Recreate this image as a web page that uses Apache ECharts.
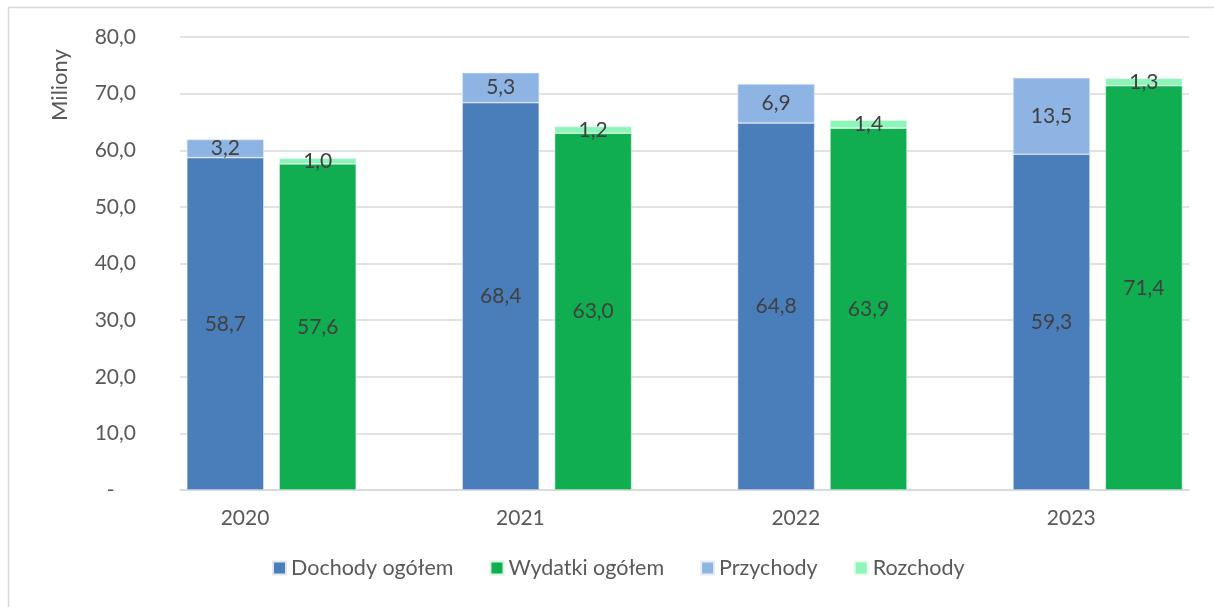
<!DOCTYPE html>
<html><head><meta charset="utf-8">
<script src="https://cdn.jsdelivr.net/npm/echarts@6/dist/echarts.min.js"></script>
<style>html,body{margin:0;padding:0;background:#fff;}#c{width:1214px;height:607px;}</style>
</head><body><div id="c"></div>
<script>
const years = ['2020', '2021', '2022', '2023'];
const dochody = [58.7, 68.4, 64.8, 59.3];
const przychody = [3.2, 5.3, 6.9, 13.5];
const wydatki = [57.6, 63.0, 63.9, 71.4];
const rozchody = [1.0, 1.2, 1.4, 1.3];
const yTicks = { min: 0, max: 80, interval: 10 };

const FONT = 'Lato';
const fmt = v => v.toFixed(1).replace('.', ',');
const lbl = { show: true, position: 'inside', color: '#404040', fontSize: 21, fontFamily: FONT, formatter: p => fmt(p.value) };

const chart = echarts.init(document.getElementById('c'));
chart.setOption({
  animation: false,
  grid: [
    { left: 180, right: 25, top: 37, bottom: 117 },
    { left: 271.5, right: 116.3, top: 37, bottom: 117 }
  ],
  graphic: [
    { type: 'rect', shape: { x: 8.5, y: 7.5, width: 1300, height: 700 }, style: { fill: 'none', stroke: '#d9d9d9', lineWidth: 1.5 } },
    { type: 'text', x: 49, y: 85, rotation: Math.PI / 2, style: { text: 'Miliony', fontSize: 22, fontFamily: FONT, fill: '#595959', textAlign: 'center', textVerticalAlign: 'top' } }
  ],
  legend: {
    bottom: 23, left: 267, itemWidth: 13, itemHeight: 13, itemGap: 36, icon: 'rect',
    textStyle: { fontSize: 21.5, fontFamily: FONT, color: '#595959' },
    data: ['Dochody ogółem', 'Wydatki ogółem', 'Przychody', 'Rozchody']
  },
  xAxis: [
    {
      gridIndex: 0, type: 'category', data: years,
      axisLine: { lineStyle: { color: '#d9d9d9', width: 1.5 } }, axisTick: { show: false },
      axisLabel: { show: false }
    },
    {
      gridIndex: 1, type: 'category', data: years, boundaryGap: false,
      axisLine: { show: false }, axisTick: { show: false },
      axisLabel: { fontSize: 21, fontFamily: FONT, color: '#595959', margin: 18, padding: [0, 53, 0, 0] }
    }
  ],
  yAxis: [
    {
      gridIndex: 0, type: 'value', min: yTicks.min, max: yTicks.max, interval: yTicks.interval,
      axisLine: { show: false }, axisTick: { show: false },
      splitLine: { lineStyle: { color: '#d9d9d9', width: 1.5 } },
      axisLabel: { fontSize: 21, fontFamily: FONT, color: '#595959', margin: 44, formatter: v => v === 0 ? '-    ' : fmt(v) }
    },
    {
      gridIndex: 1, type: 'value', min: yTicks.min, max: yTicks.max, interval: yTicks.interval,
      show: false, splitLine: { show: false }
    }
  ],
  series: [
    { name: 'Dochody ogółem', type: 'bar', xAxisIndex: 1, yAxisIndex: 1, stack: 'a', data: dochody, barWidth: 77, barGap: '20%', itemStyle: { color: '#4a7ebb', borderColor: '#dfe8f4', borderWidth: 0.6 }, label: lbl },
    { name: 'Przychody', type: 'bar', xAxisIndex: 1, yAxisIndex: 1, stack: 'a', data: przychody, itemStyle: { color: '#8eb4e3', borderColor: '#e4edf8', borderWidth: 0.6 }, label: lbl },
    { name: 'Wydatki ogółem', type: 'bar', xAxisIndex: 1, yAxisIndex: 1, stack: 'b', data: wydatki, barWidth: 77, itemStyle: { color: '#10ae50', borderColor: '#d8f2e2', borderWidth: 0.6 }, label: lbl },
    { name: 'Rozchody', type: 'bar', xAxisIndex: 1, yAxisIndex: 1, stack: 'b', data: rozchody, itemStyle: { color: '#8df5b8', borderColor: '#e4fbee', borderWidth: 0.6 }, label: lbl }
  ]
});
</script></body></html>
